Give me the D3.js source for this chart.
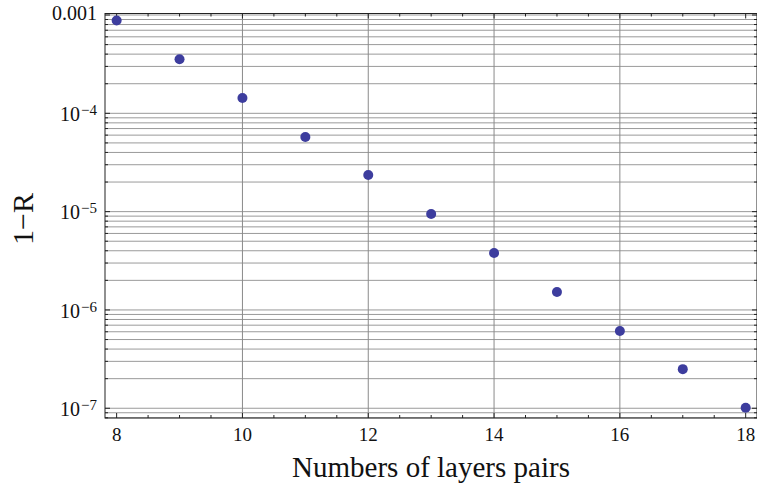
<!DOCTYPE html>
<html>
<head>
<meta charset="utf-8">
<script src="https://cdn.jsdelivr.net/npm/d3@7"></script>
<style>
  html, body { margin: 0; padding: 0; background: #fff; }
  svg { display: block; }
  text { font-family: "Liberation Serif", "Times New Roman", serif; fill: #111; }
</style>
</head>
<body>
<svg id="chart" width="757" height="491"></svg>
<script>
// Number of layer pairs in the stack
const layerPairs = [8, 9, 10, 11, 12, 13, 14, 15, 16, 17, 18];
// Transmission loss 1 - R for each stack
const oneMinusR = [8.8e-4, 3.55e-4, 1.43e-4, 5.75e-5, 2.36e-5, 9.45e-6, 3.8e-6, 1.52e-6, 6.1e-7, 2.5e-7, 1.01e-7];

// Axis tick definitions
const xMajorTicks = [8, 10, 12, 14, 16, 18];
const xGridTicks = [10, 12, 14, 16];
const yDecades = [-7, -6, -5, -4, -3];
const yDecadeLabels = ["10", "10", "10", "10", "0.001"];
const yDecadeExps = ["−7", "−6", "−5", "−4", ""];

const svg = d3.select("#chart");
const plotL = 105, plotR = 757, plotT = 13.5, plotB = 418;

const x = d3.scaleLinear().domain([7.815, 18.18]).range([plotL, plotR]);
const y = d3.scaleLog().domain([7.96e-8, 1.036e-3]).range([plotB, plotT]);

// minor ticks for y: 1..9 x 10^k
const yMinor = [];
for (let k = -8; k <= -3; k++) {
  for (let m = 1; m <= 9; m++) {
    const v = m * Math.pow(10, k);
    if (v >= y.domain()[0] && v <= y.domain()[1]) yMinor.push(v);
  }
}
const xMinor = d3.range(8, 18.01, 0.5).filter(v => !xMajorTicks.includes(v));

const g = svg.append("g");

// horizontal grid lines
g.append("g").selectAll("line").data(yMinor).join("line")
  .attr("x1", plotL).attr("x2", plotR)
  .attr("y1", d => y(d)).attr("y2", d => y(d))
  .attr("stroke", "#9a9a9a").attr("stroke-width", 1);

// vertical grid lines
g.append("g").selectAll("line").data(xGridTicks).join("line")
  .attr("x1", d => x(d)).attr("x2", d => x(d))
  .attr("y1", plotT).attr("y2", plotB)
  .attr("stroke", "#8a8a8a").attr("stroke-width", 1);

// frame
g.append("rect")
  .attr("x", plotL).attr("y", plotT)
  .attr("width", plotR - plotL).attr("height", plotB - plotT)
  .attr("fill", "none").attr("stroke", "#222").attr("stroke-width", 1);

// ticks (inward, on all four sides)
const ticks = g.append("g").attr("stroke", "#222").attr("stroke-width", 1);
const yMajorVals = yDecades.map(k => Math.pow(10, k));
const yMinorOnly = yMinor.filter(v => !yMajorVals.some(m => Math.abs(m - v) / m < 1e-9));
[[yMajorVals, 5], [yMinorOnly, 3]].forEach(([vals, len]) => {
  ticks.selectAll(null).data(vals).join("line")
    .attr("x1", plotL).attr("x2", plotL + len)
    .attr("y1", d => y(d)).attr("y2", d => y(d));
  ticks.selectAll(null).data(vals).join("line")
    .attr("x1", plotR).attr("x2", plotR - len)
    .attr("y1", d => y(d)).attr("y2", d => y(d));
});
[[xMajorTicks, 5], [xMinor, 3]].forEach(([vals, len]) => {
  ticks.selectAll(null).data(vals).join("line")
    .attr("x1", d => x(d)).attr("x2", d => x(d))
    .attr("y1", plotB).attr("y2", plotB - len);
  ticks.selectAll(null).data(vals).join("line")
    .attr("x1", d => x(d)).attr("x2", d => x(d))
    .attr("y1", plotT).attr("y2", plotT + len);
});

// x tick labels
g.append("g").selectAll("text").data(xMajorTicks).join("text")
  .attr("x", d => x(d)).attr("y", 441)
  .attr("text-anchor", "middle").attr("font-size", 19)
  .text(d => d);

// y tick labels with superscripted exponents
const yl = g.append("g").selectAll("text").data(yDecades).join("text")
  .attr("x", 97).attr("y", d => d === -3 ? 19.5 : y(Math.pow(10, d)) + 7.6)
  .attr("text-anchor", "end").attr("font-size", 20);
yl.append("tspan").text((d, i) => yDecadeLabels[i]);
yl.append("tspan")
  .attr("font-size", 15).attr("dy", -6).attr("dx", 1)
  .text((d, i) => yDecadeExps[i]);

// points
g.append("g").selectAll("circle").data(layerPairs).join("circle")
  .attr("cx", d => x(d))
  .attr("cy", (d, i) => y(oneMinusR[i]))
  .attr("r", 5)
  .attr("fill", "#3d3d9e");

// axis titles
svg.append("text")
  .attr("x", 431).attr("y", 477)
  .attr("text-anchor", "middle").attr("font-size", 29)
  .text("Numbers of layers pairs");

svg.append("text")
  .attr("transform", "translate(33,219) rotate(-90)")
  .attr("text-anchor", "middle").attr("font-size", 30)
  .text("1−R");
</script>
</body>
</html>
